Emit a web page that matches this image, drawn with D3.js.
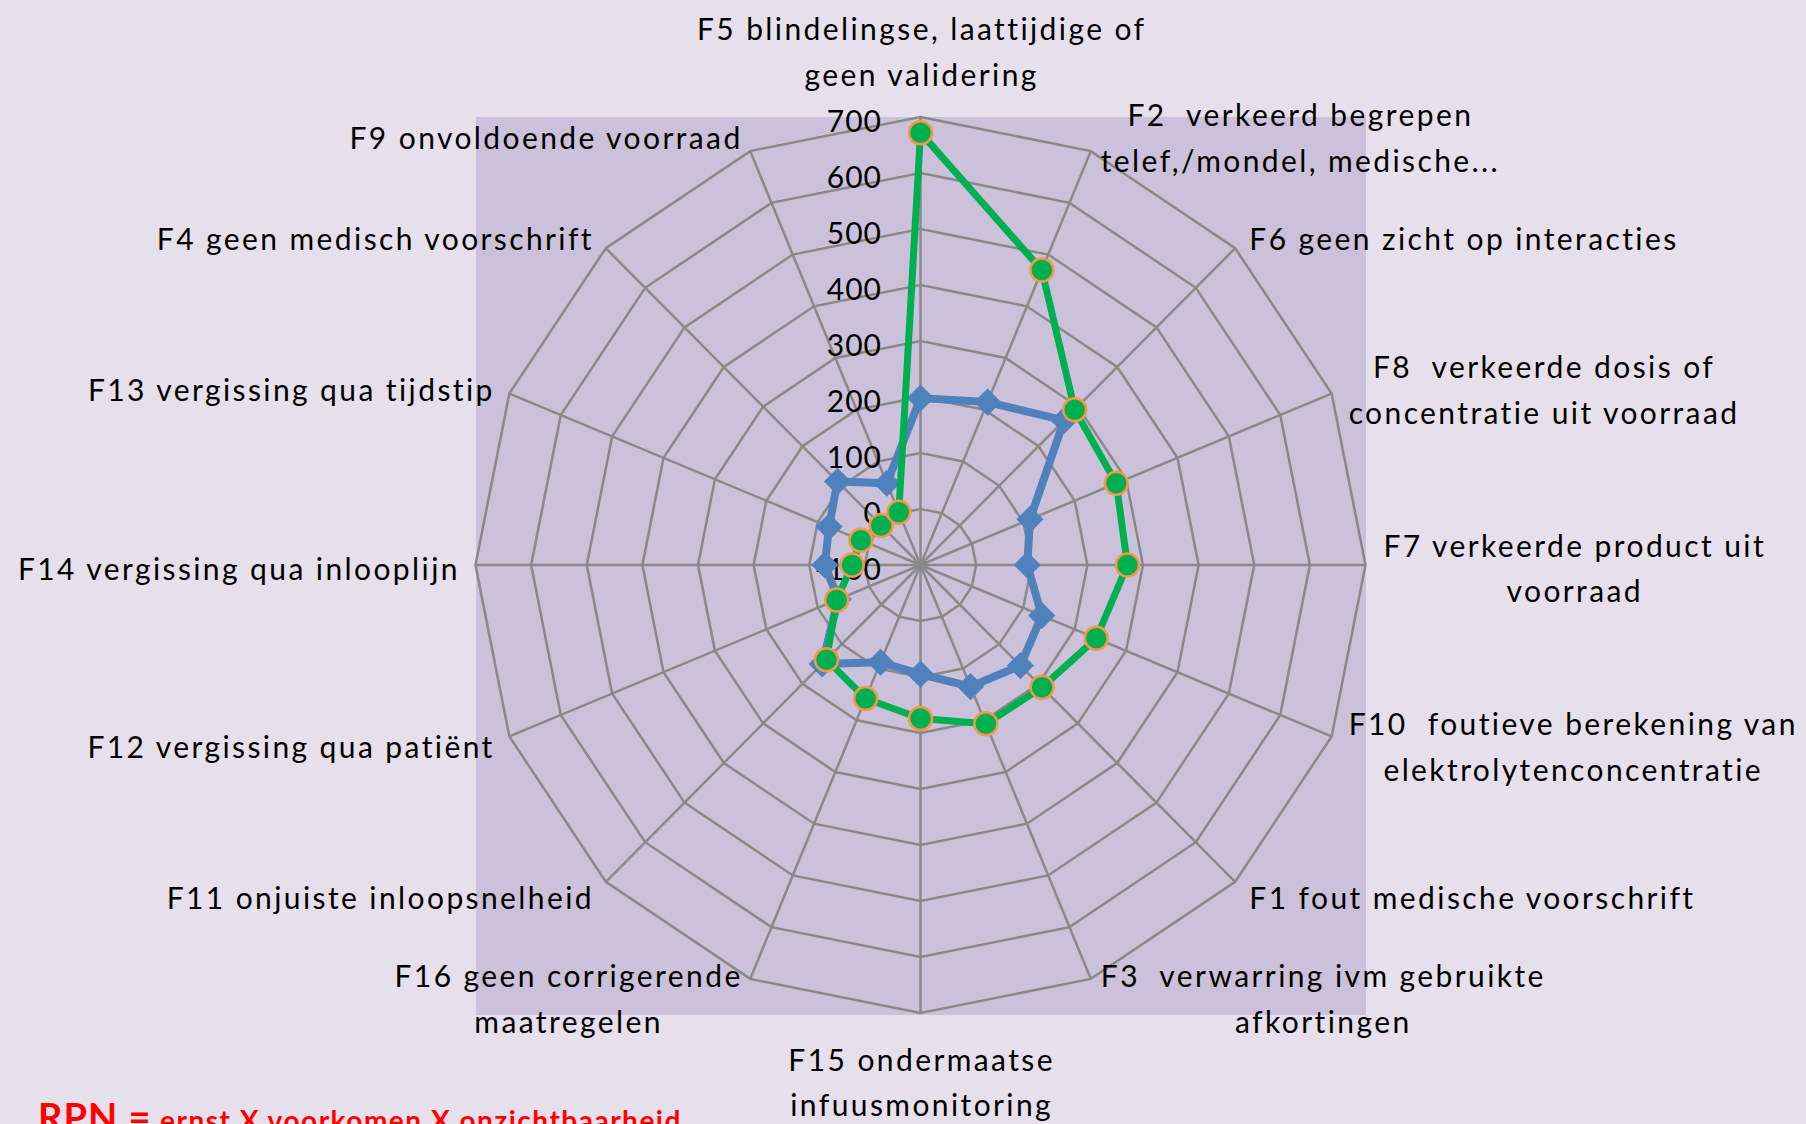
<!DOCTYPE html>
<html>
<head>
<meta charset="utf-8">
<script src="https://cdn.jsdelivr.net/npm/d3@7/dist/d3.min.js"></script>
<style>
html, body { margin: 0; padding: 0; background: #e6e0ec; overflow: hidden; }
svg { display: block; }
text { font-family: Lato, "Open Sans", sans-serif; white-space: pre; }
</style>
</head>
<body>
<svg id="chart"></svg>
<script>
// categories clockwise from the top
var categories = ["F5", "F2", "F6", "F8", "F7", "F10", "F1", "F3",
                  "F15", "F16", "F11", "F12", "F14", "F13", "F4", "F9"];

var categoryLabels = [
    ["F5 blindelingse, laattijdige of", "geen validering"],
    ["F2  verkeerd begrepen", "telef,/mondel, medische..."],
    ["F6 geen zicht op interacties"],
    ["F8  verkeerde dosis of", "concentratie uit voorraad"],
    ["F7 verkeerde product uit", "voorraad"],
    ["F10  foutieve berekening van", "elektrolytenconcentratie"],
    ["F1 fout medische voorschrift"],
    ["F3  verwarring ivm gebruikte", "afkortingen"],
    ["F15 ondermaatse", "infuusmonitoring"],
    ["F16 geen corrigerende", "maatregelen"],
    ["F11 onjuiste inloopsnelheid"],
    ["F12 vergissing qua patiënt"],
    ["F14 vergissing qua inlooplijn"],
    ["F13 vergissing qua tijdstip"],
    ["F4 geen medisch voorschrift"],
    ["F9 onvoldoende voorraad"]
];

var blueValues  = [198, 215, 265, 113, 92, 136, 154, 135, 95, 88, 150, 60, 72, 78, 111, 58];
var greenValues = [672, 470, 292, 281, 272, 242, 209, 207, 174, 158, 139, 63, 23, 16, 0, 2];

var tickValues = [-100, 0, 100, 200, 300, 400, 500, 600, 700];

var width = 1806, height = 1124,
    cx = 920.5, cy = 565, rx = 445, ry = 448,
    plot = {x: 476, y: 117, w: 890, h: 898},
    grid_color = "#898989",
    font_size = 30,
    spacing = 2.4;

var svg = d3.select("#chart")
    .attr("width", width)
    .attr("height", height);

svg.append("rect")
    .attr("width", width).attr("height", height)
    .attr("fill", "#e6e0ec");

svg.append("rect")
    .attr("x", plot.x).attr("y", plot.y)
    .attr("width", plot.w).attr("height", plot.h)
    .attr("fill", "#ccc1da");

var r = d3.scaleLinear().domain([-100, 700]).range([0, 1]);
var angle = d3.scaleLinear().domain([0, categories.length]).range([0, 2 * Math.PI]);

function point(i, v){
    var a = angle(i), k = r(v);
    return [cx + rx * k * Math.sin(a), cy - ry * k * Math.cos(a)];
}

var grid = svg.append("g").attr("class", "grid");

// rings
tickValues.slice(1).forEach(function(t){
    grid.append("path")
        .attr("d", d3.line().curve(d3.curveLinearClosed)(categories.map(function(c, i){ return point(i, t); })))
        .attr("fill", "none")
        .attr("stroke", grid_color)
        .attr("stroke-width", 2.5);
});

// spokes
grid.selectAll("line")
    .data(categories)
    .enter()
    .append("line")
    .attr("x1", cx).attr("y1", cy)
    .attr("x2", function(d, i){ return point(i, 700)[0]; })
    .attr("y2", function(d, i){ return point(i, 700)[1]; })
    .attr("stroke", grid_color)
    .attr("stroke-width", 2.5);

// tick labels
svg.append("g")
    .selectAll("text")
    .data(tickValues)
    .enter()
    .append("text")
    .attr("x", cx - 38.5)
    .attr("y", function(d){ return cy - ry * r(d) + 4; })
    .attr("dy", "0.35em")
    .attr("text-anchor", "end")
    .attr("font-size", font_size)
    .attr("letter-spacing", 1)
    .attr("fill", "#000")
    .text(function(d){ return d; });

// series
var line = d3.line().curve(d3.curveLinearClosed);

function seriesPoints(values){
    return values.map(function(v, i){ return point(i, v); });
}

svg.append("path")
    .attr("d", line(seriesPoints(blueValues)))
    .attr("fill", "none")
    .attr("stroke", "#4f81bd")
    .attr("stroke-width", 8)
    .attr("stroke-linejoin", "round");

svg.append("g")
    .selectAll("path")
    .data(seriesPoints(blueValues))
    .enter()
    .append("path")
    .attr("d", d3.symbol(d3.symbolSquare, 370)())
    .attr("transform", function(d){ return "translate(" + d[0] + "," + d[1] + ") rotate(45)"; })
    .attr("fill", "#4f81bd");

svg.append("path")
    .attr("d", line(seriesPoints(greenValues)))
    .attr("fill", "none")
    .attr("stroke", "#00b050")
    .attr("stroke-width", 7)
    .attr("stroke-linejoin", "round");

svg.append("g")
    .selectAll("circle")
    .data(seriesPoints(greenValues))
    .enter()
    .append("circle")
    .attr("cx", function(d){ return d[0]; })
    .attr("cy", function(d){ return d[1]; })
    .attr("r", 11.5)
    .attr("fill", "#00b050")
    .attr("stroke", "#f79646")
    .attr("stroke-width", 2.5);

// category labels
var lineHeight = 45.5;
var labels = svg.append("g").attr("class", "labels");

categoryLabels.forEach(function(lines, i){
    var a = angle(i),
        v = point(i, 700),
        sin = Math.sin(a), cos = Math.cos(a),
        g = labels.append("g");

    var texts = lines.map(function(s){
        return g.append("text")
            .attr("font-size", font_size)
            .attr("letter-spacing", spacing)
            .attr("fill", "#000")
            .attr("dy", "0.35em")
            .text(s);
    });
    // trailing letter-spacing is not part of the visible text
    var maxW = d3.max(texts, function(t){ return t.node().getComputedTextLength(); }) - spacing;
    var xc, y0;

    if(Math.abs(sin) < 1e-6){
        xc = cx;
        if(cos > 0){
            y0 = v[1] - 42 - (lines.length - 1) * lineHeight;
        } else {
            y0 = v[1] + 47;
        }
    } else {
        var gap = 5 + 13 * Math.abs(sin);
        var yc = v[1] + 4 - 18 * cos;
        y0 = yc - (lines.length - 1) * lineHeight / 2;
        if(sin > 0){
            xc = v[0] + gap + maxW / 2;
        } else {
            xc = v[0] - gap - maxW / 2;
        }
    }
    texts.forEach(function(t, j){
        t.attr("x", xc + spacing / 2)
         .attr("y", y0 + j * lineHeight)
         .attr("text-anchor", "middle");
    });
});

// footnote, cut off by the bottom edge as in the original
var foot = svg.append("text")
    .attr("x", 38)
    .attr("y", 1131)
    .attr("fill", "#ff0000")
    .attr("font-weight", "bold");
foot.append("tspan").attr("font-size", 38).attr("letter-spacing", 1).text("RPN =");
foot.append("tspan").attr("x", 160).attr("font-size", 28).attr("letter-spacing", 1.5).text("ernst X voorkomen X onzichtbaarheid");
</script>
</body>
</html>
